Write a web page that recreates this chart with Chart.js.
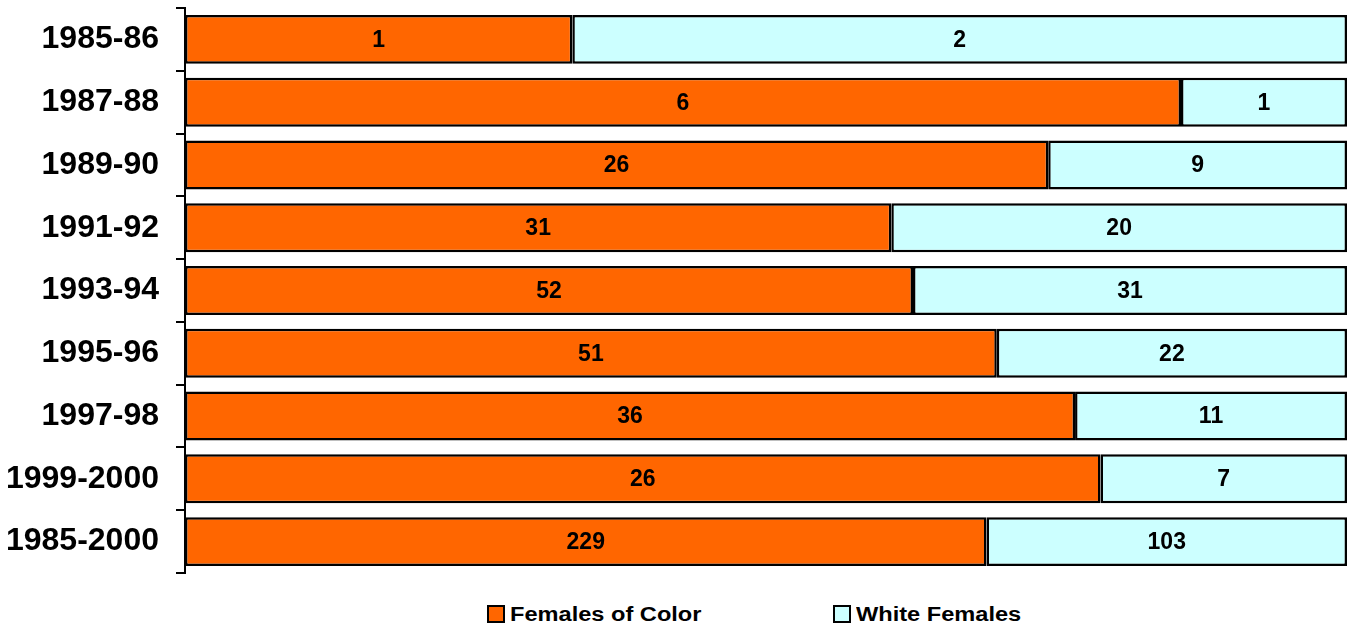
<!DOCTYPE html>
<html>
<head>
<meta charset="utf-8">
<script src="https://cdn.jsdelivr.net/npm/chart.js@4/dist/chart.umd.min.js"></script>
<style>
  body { margin: 0; background: #fff; font-family: "Liberation Sans", Arial, sans-serif; }
  #wrap { width: 1349px; height: 590px; position: relative; }
  #legend { width: 1349px; height: 39px; position: relative; font-weight: bold; font-size: 20px; }
  .item { position: absolute; top: 14px; display: flex; align-items: center; }
  .box { width: 14px; height: 14px; border: 2px solid #000; margin-right: 5px; }
  .txt { display: inline-block; transform: scaleX(1.18); transform-origin: left center; line-height: 20px; }
</style>
</head>
<body>
<div id="wrap"><canvas id="chart"></canvas></div>
<div id="legend">
  <div class="item" style="left:487px"><span class="box" style="background:#FF6600"></span><span class="txt">Females of Color</span></div>
  <div class="item" style="left:833px"><span class="box" style="background:#CCFFFF"></span><span class="txt">White Females</span></div>
</div>
<script>
// data
const periods = ['1985-86', '1987-88', '1989-90', '1991-92', '1993-94', '1995-96', '1997-98', '1999-2000', '1985-2000'];
const femalesOfColor = [1, 6, 26, 31, 52, 51, 36, 26, 229];
const whiteFemales = [2, 1, 9, 20, 31, 22, 11, 7, 103];

// 100% stacked: share of each row
function share(a, b) {
    return a.map((v, i) => v / (v + b[i]) * 100);
}

const countLabels = {
    id: 'countLabels',
    afterDatasetsDraw(chart) {
        const ctx = chart.ctx;
        ctx.save();
        ctx.font = 'bold 23px "Liberation Sans", Arial, sans-serif';
        ctx.fillStyle = '#000';
        ctx.textAlign = 'center';
        ctx.textBaseline = 'middle';
        chart.data.datasets.forEach((ds, di) => {
            chart.getDatasetMeta(di).data.forEach((bar, i) => {
                const p = bar.getProps(['x', 'y', 'base']);
                ctx.fillText(ds.counts[i], (p.x + p.base) / 2, p.y + 1);
            });
        });
        ctx.restore();
    }
};

new Chart(document.getElementById('chart'), {
    type: 'bar',
    data: {
        labels: periods,
        datasets: [{
            label: 'Females of Color',
            data: share(femalesOfColor, whiteFemales),
            counts: femalesOfColor,
            backgroundColor: '#FF6600',
            borderColor: '#000',
            borderWidth: 2.5,
            borderSkipped: false,
            barPercentage: 0.78,
            categoryPercentage: 1
        }, {
            label: 'White Females',
            data: share(whiteFemales, femalesOfColor),
            counts: whiteFemales,
            backgroundColor: '#CCFFFF',
            borderColor: '#000',
            borderWidth: 2.5,
            borderSkipped: false,
            barPercentage: 0.78,
            categoryPercentage: 1
        }]
    },
    options: {
        indexAxis: 'y',
        responsive: true,
        maintainAspectRatio: false,
        animation: false,
        layout: { padding: { top: 8, bottom: 17, right: 2, left: 0 } },
        plugins: {
            legend: { display: false },
            tooltip: { enabled: false }
        },
        scales: {
            x: {
                stacked: true,
                min: 0,
                max: 100,
                display: false
            },
            y: {
                stacked: true,
                afterFit: function(scale) {
                    scale.width = 185;
                    scale.paddingTop = 0;
                    scale.paddingBottom = 0;
                },
                border: { display: true, color: '#000', width: 2 },
                grid: {
                    offset: true,
                    drawOnChartArea: false,
                    color: '#000',
                    lineWidth: 2,
                    tickLength: 9
                },
                ticks: {
                    padding: 17,
                    color: '#000',
                    font: { family: '"Liberation Sans", Arial, sans-serif', size: 32, weight: 'bold' }
                }
            }
        }
    },
    plugins: [countLabels]
});
</script>
</body>
</html>
